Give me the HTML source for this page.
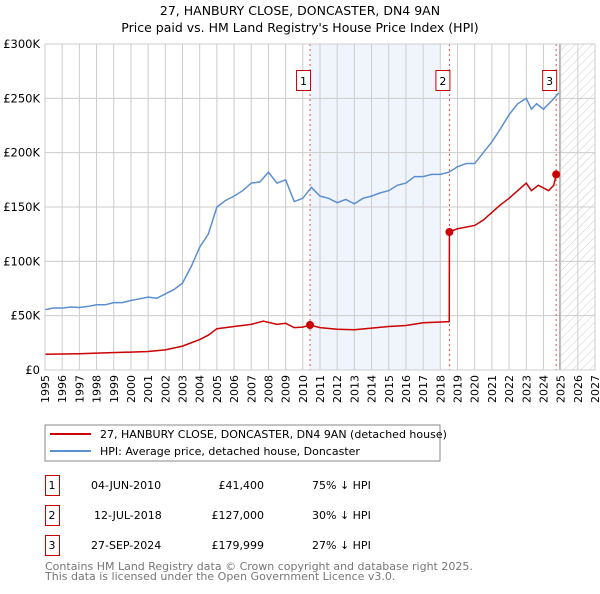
<!DOCTYPE html>
<html><head><meta charset="utf-8"><style>
body{margin:0;background:#fff;font-family:"DejaVu Sans","Liberation Sans",sans-serif;}
svg text{font-family:"DejaVu Sans","Liberation Sans",sans-serif;}
</style></head><body>
<svg id="c" width="600" height="590" viewBox="0 0 600 590" xmlns="http://www.w3.org/2000/svg">
<defs><pattern id="hatch" width="6" height="6" patternUnits="userSpaceOnUse" patternTransform="rotate(45)"><line x1="0" y1="0" x2="0" y2="6" stroke="#ccc" stroke-width="1"/></pattern></defs>
<text x="300" y="15" text-anchor="middle" font-size="12.5" fill="#000">27, HANBURY CLOSE, DONCASTER, DN4 9AN</text>
<text x="300" y="32" text-anchor="middle" font-size="12.5" fill="#000">Price paid vs. HM Land Registry's House Price Index (HPI)</text>
<g id="plot"></g>
<g>
<rect x="45" y="425" width="395" height="36" fill="#fff" stroke="#888" stroke-width="1"/>
<line x1="50" y1="434" x2="91" y2="434" stroke="#cc0000" stroke-width="2"/>
<text x="100" y="438" font-size="11">27, HANBURY CLOSE, DONCASTER, DN4 9AN (detached house)</text>
<line x1="50" y1="451" x2="91" y2="451" stroke="#5b8fd0" stroke-width="2"/>
<text x="100" y="455" font-size="11">HPI: Average price, detached house, Doncaster</text>
</g>
<g font-size="11">
<rect x="45.5" y="475.5" width="14" height="20" fill="#fff" stroke="#cc0000"/><text x="52" y="489" text-anchor="middle">1</text>
<text x="91" y="489">04-JUN-2010</text><text x="264" y="489" text-anchor="end">£41,400</text><text x="312" y="489">75% ↓ HPI</text>
<rect x="45.5" y="505.5" width="14" height="20" fill="#fff" stroke="#cc0000"/><text x="52" y="519" text-anchor="middle">2</text>
<text x="94" y="519">12-JUL-2018</text><text x="264" y="519" text-anchor="end">£127,000</text><text x="312" y="519">30% ↓ HPI</text>
<rect x="45.5" y="535.5" width="14" height="20" fill="#fff" stroke="#cc0000"/><text x="52" y="549" text-anchor="middle">3</text>
<text x="91" y="549">27-SEP-2024</text><text x="264" y="549" text-anchor="end">£179,999</text><text x="312" y="549">27% ↓ HPI</text>
</g>
<text x="45" y="570" font-size="11" fill="#777">Contains HM Land Registry data © Crown copyright and database right 2025.</text>
<text x="45" y="580" font-size="11" fill="#777">This data is licensed under the Open Government Licence v3.0.</text>
</svg>
<script>
const hpiYears=[1995,1995.5,1996,1996.5,1997,1997.5,1998,1998.5,1999,1999.5,2000,2000.5,2001,2001.5,2002,2002.5,2003,2003.5,2004,2004.5,2005,2005.5,2006,2006.5,2007,2007.5,2008,2008.5,2009,2009.5,2010,2010.5,2011,2011.5,2012,2012.5,2013,2013.5,2014,2014.5,2015,2015.5,2016,2016.5,2017,2017.5,2018,2018.5,2019,2019.5,2020,2020.5,2021,2021.5,2022,2022.5,2023,2023.3,2023.6,2024,2024.5,2024.9];
const hpiValues=[55.5,57,57,58,57.5,58.5,60,60,62,62,64,65.5,67,66,70,74,80,95,113,125,150,156,160,165,172,173,182,172,175,155,158,168,160,158,154,157,153,158,160,163,165,170,172,178,178,180,180,182,187,190,190,200,210,222,235,245,250,240,245,240,248,255];
const propYears=[1995,1997,1998,2000,2001,2002,2003,2004,2004.5,2005,2006,2007,2007.7,2008.5,2009,2009.5,2010,2010.42,2011,2012,2013,2014,2015,2016,2017,2018.52,2018.53,2019,2020,2020.5,2021,2021.5,2022,2022.5,2023,2023.3,2023.7,2024.3,2024.6,2024.74];
const propValues=[14.5,15,15.5,16.5,17,18.5,22,28,32,38,40,42,45,42,43,39,39.5,41.4,39,37.5,37,38.5,40,41,43.5,44.5,127,130,133,138,145,152,158,165,172,165,170,165,170,180];
const saleYears=[2010.42,2018.53,2024.74];
const saleValues=[41.4,127,179.999];
const saleLabels=["1","2","3"];
const yTicks=[0,50,100,150,200,250,300];
const yTickLabels=["£0","£50K","£100K","£150K","£200K","£250K","£300K"];
const xStart=1995,xEnd=2027;
const X0=45,X1=595,Y0=370,Y1=44;
const xs=y=>X0+(y-xStart)/(xEnd-xStart)*(X1-X0);
const ys=v=>Y0-v/300*(Y0-Y1);
const NS="http://www.w3.org/2000/svg";
const g=document.getElementById('plot');
function mk(t,a){const e=document.createElementNS(NS,t);for(const k in a)e.setAttribute(k,a[k]);g.appendChild(e);return e;}
let e=mk('rect',{x:xs(saleYears[0]),y:Y1,width:xs(2018)-xs(saleYears[0]),height:Y0-Y1,fill:'#f0f4fc'});


e=mk('rect',{x:xs(2024.95),y:Y1,width:X1-xs(2024.95),height:Y0-Y1,fill:'url(#hatch)'});


for(let y=xStart;y<=xEnd;y++){
  e=mk('line',{x1:xs(y),x2:xs(y),y1:Y1,y2:Y0,stroke:'#ccc','stroke-width':1});
  
  
  e=mk('text',{x:0,y:0,'font-size':11,'text-anchor':'end',transform:`translate(${xs(y)+4},${Y0+5}) rotate(-90)`});
  e.textContent=String(y);
  
  
}
yTicks.forEach((v,i)=>{
  e=mk('line',{x1:X0,x2:X1,y1:ys(v),y2:ys(v),stroke:'#ccc','stroke-width':1});
  
  
  e=mk('text',{x:40,y:ys(v)+4,'font-size':11.5,'text-anchor':'end'});
  e.textContent=yTickLabels[i];
  
  
});
e=mk('line',{x1:xs(2024.95),x2:xs(2024.95),y1:Y1,y2:Y0,stroke:'#999','stroke-width':1});


saleYears.forEach((s,i)=>{
  e=mk('line',{x1:xs(s),x2:xs(s),y1:Y1,y2:Y0,stroke:'#e05050','stroke-width':1,'stroke-dasharray':'2,3'});
  
  
});
e=mk('polyline',{points:hpiYears.map((y,i)=>xs(y)+','+ys(hpiValues[i])).join(' '),fill:'none',stroke:'#5b8fd0','stroke-width':1.5});


e=mk('polyline',{points:propYears.map((y,i)=>xs(y)+','+ys(propValues[i])).join(' '),fill:'none',stroke:'#cc0000','stroke-width':1.5});


saleYears.forEach((s,i)=>{
  e=mk('circle',{cx:xs(s),cy:ys(saleValues[i]),r:4,fill:'#cc0000'});
  
  
  e=mk('rect',{x:xs(s)-13.5,y:70.5,width:14,height:20,fill:'#fff',stroke:'#cc0000'});
  
  
  e=mk('text',{x:xs(s)-6.5,y:85,'font-size':11,'text-anchor':'middle'});
  e.textContent=saleLabels[i];
  
  
});
e=mk('rect',{x:X0,y:Y1,width:X1-X0,height:Y0-Y1,fill:'none',stroke:'#ccc'});


</script>
</body></html>
